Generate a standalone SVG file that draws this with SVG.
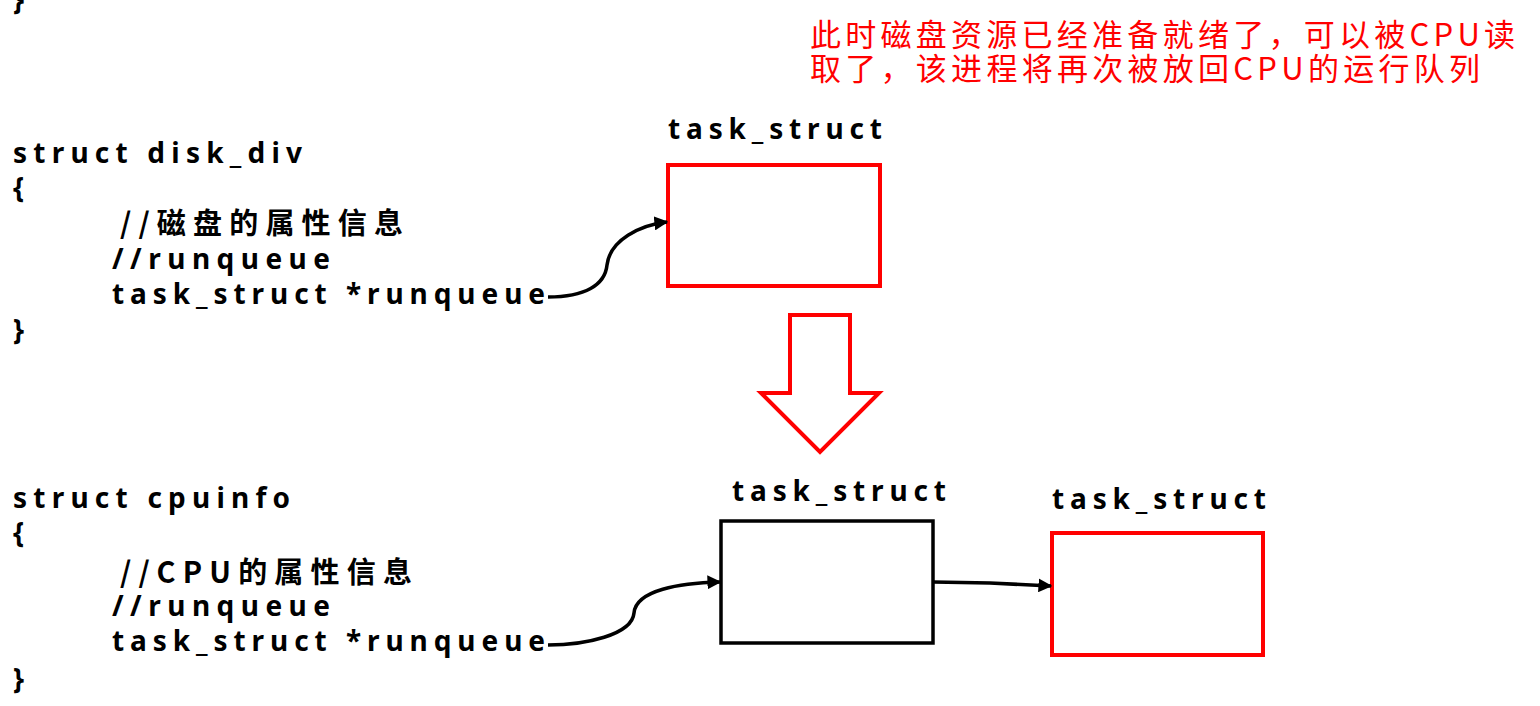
<svg xmlns="http://www.w3.org/2000/svg" width="1540" height="706" viewBox="0 0 1540 706">
<defs>
<style>
.code{font-family:"Noto Sans","Noto Sans CJK SC",sans-serif;font-weight:bold;font-size:28px;fill:#000;}
.cjk{font-family:"Noto Sans CJK SC","Noto Sans",sans-serif;font-weight:bold;font-size:29px;fill:#000;}
.note{font-family:"Noto Sans CJK SC","Noto Sans",sans-serif;font-size:31px;fill:#ff0000;}
.red{fill:#fff;stroke:#ff0000;stroke-width:4;}
.blk{fill:#fff;stroke:#000;stroke-width:3.5;}
.conn{fill:none;stroke:#000;stroke-width:3.5;}
</style>
<marker id="ah" viewBox="0 0 10 10" refX="9" refY="5" markerWidth="4" markerHeight="4" orient="auto" markerUnits="strokeWidth">
<path d="M0,0 L10,5 L0,10 z" fill="#000"/>
</marker>
</defs>
<rect width="1540" height="706" fill="#fff"/>

<g id="disk-code">
<text class="code" x="13" y="10">}</text>
<text class="code" x="13" y="163" textLength="289" lengthAdjust="spacing">struct disk_div</text>
<text class="code" x="13" y="198">{</text>
<text class="cjk" x="120" y="234" textLength="283" lengthAdjust="spacing">//磁盘的属性信息</text>
<text class="code" x="112" y="269" textLength="218" lengthAdjust="spacing">//runqueue</text>
<text class="code" x="112" y="304" textLength="433" lengthAdjust="spacing">task_struct *runqueue</text>
<text class="code" x="13" y="340">}</text>
</g>

<g id="note">
<text class="note" x="810" y="46" textLength="705" lengthAdjust="spacing">此时磁盘资源已经准备就绪了，可以被CPU读</text>
<text class="note" x="810" y="80" textLength="670" lengthAdjust="spacing">取了，该进程将再次被放回CPU的运行队列</text>
</g>

<g id="task-disk">
<text class="code" x="668" y="139" textLength="214" lengthAdjust="spacing">task_struct</text>
<rect class="red" x="668" y="165" width="212" height="121"/>
</g>

<g id="down-arrow">
<path class="red" d="M790,315 L850,315 L850,393 L879,393 L820,452 L761,393 L790,393 Z"/>
</g>

<g id="cpu-code">
<text class="code" x="13" y="508" textLength="277" lengthAdjust="spacing">struct cpuinfo</text>
<text class="code" x="13" y="543">{</text>
<text class="cjk" x="120" y="583" textLength="292" lengthAdjust="spacing">//CPU的属性信息</text>
<text class="code" x="112" y="616" textLength="218" lengthAdjust="spacing">//runqueue</text>
<text class="code" x="112" y="651" textLength="433" lengthAdjust="spacing">task_struct *runqueue</text>
<text class="code" x="13" y="689">}</text>
</g>

<g id="task-cpu-1">
<text class="code" x="732" y="501" textLength="214" lengthAdjust="spacing">task_struct</text>
<rect class="blk" x="721" y="521" width="212" height="122"/>
</g>

<g id="task-cpu-2">
<text class="code" x="1052" y="509" textLength="214" lengthAdjust="spacing">task_struct</text>
<rect class="red" x="1052" y="533" width="211" height="122"/>
</g>

<g id="connectors">
<path class="conn" marker-end="url(#ah)" d="M548,297 C585,297 605,285 607,265 C610,240 640,225 667,222"/>
<path class="conn" marker-end="url(#ah)" d="M548,645 C585,645 632,635 634,613 C636,590 680,583 720,582"/>
<path class="conn" marker-end="url(#ah)" d="M933,582 L990,583 L1051,586"/>
</g>
</svg>
